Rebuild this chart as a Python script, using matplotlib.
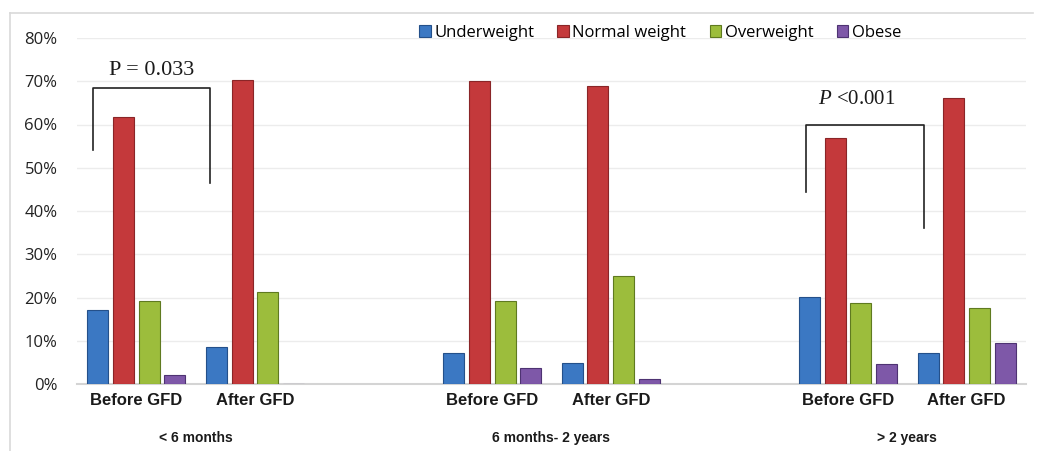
import matplotlib
matplotlib.use("Agg")
import matplotlib.pyplot as plt
from matplotlib.lines import Line2D
import numpy as np

plt.rcParams["mathtext.fontset"] = "custom"
plt.rcParams["mathtext.it"] = "Liberation Serif:italic"
plt.rcParams["mathtext.rm"] = "Liberation Serif"

series = ["Underweight", "Normal weight", "Overweight", "Obese"]
colors = ["#3b78c3", "#c4393b", "#9cbd3c", "#7e58a8"]
edges = ["#24508a", "#8a2527", "#5f7a20", "#4e3372"]

categories = ["Before GFD", "After GFD", "", "Before GFD", "After GFD", "", "Before GFD", "After GFD"]
groups = ["< 6 months", "6 months- 2 years", "> 2 years"]

underweight = [17.1, 8.6, None, 7.2, 4.9, None, 20.1, 7.2]
normal      = [61.7, 70.4, None, 70.0, 68.9, None, 56.9, 66.1]
overweight  = [19.2, 21.3, None, 19.2, 25.0, None, 18.7, 17.6]
obese       = [2.1, 0.0, None, 3.7, 1.2, None, 4.6, 9.5]
values = [underweight, normal, overweight, obese]
yticks = [0, 10, 20, 30, 40, 50, 60, 70, 80]

W, H = 1037, 451
fig = plt.figure(figsize=(W / 100, H / 100), dpi=100)
ax = fig.add_axes([77 / W, 1 - 384 / H, (1026 - 77) / W, (384 - 38) / H])

x = np.arange(len(categories))
step = 0.217
bw = 0.178
for i, (name, vals) in enumerate(zip(series, values)):
    xs = [xi + (i - 1.5) * step for xi, v in zip(x, vals) if v is not None]
    vs = [v / 100 for v in vals if v is not None]
    ax.bar(xs, vs, width=bw, color=colors[i], edgecolor=edges[i], linewidth=0.8,
           label=name, zorder=3)

ax.set_xlim(-0.5, len(categories) - 0.5)
ax.set_ylim(0, 0.8)
ax.set_yticks([t / 100 for t in yticks])
ax.set_yticklabels([f"{t}%" for t in yticks], fontsize=12, color="#222222",
                   family=["Open Sans", "DejaVu Sans"])
ax.tick_params(axis="y", length=0, pad=14)
ax.set_xticks([])
ax.grid(axis="y", color="#ececec", linewidth=1, zorder=0)
for s in ["left", "right", "top"]:
    ax.spines[s].set_visible(False)
ax.spines["bottom"].set_color("#d4d4d4")
ax.spines["bottom"].set_linewidth(1.5)

for xi, c in zip(x, categories):
    if c:
        ax.text(xi, -0.02, c, ha="center", va="top", fontsize=12, fontweight="bold",
                color="#1a1a1a", family=["Liberation Sans", "DejaVu Sans"])
for gi, g in enumerate(groups):
    gx = 3 * gi + 0.5
    ax.text(gx, -0.108, g, ha="center", va="top", fontsize=10, fontweight="bold",
            color="#1a1a1a", family=["Liberation Sans", "DejaVu Sans"])

# significance brackets
ax.plot([-0.365, -0.365, 0.621, 0.621], [0.541, 0.684, 0.684, 0.465],
        color="#222222", linewidth=1.2, clip_on=False, zorder=4)
ax.text(0.13, 0.703, "P = 0.033", ha="center", va="bottom", fontsize=16,
        family=["Liberation Serif", "DejaVu Serif"], color="#1a1a1a")
ax.plot([5.647, 5.647, 6.642, 6.642], [0.444, 0.599, 0.599, 0.361],
        color="#222222", linewidth=1.2, clip_on=False, zorder=4)
ax.text(6.07, 0.636, r"$\mathit{P}$ <0.001", ha="center", va="bottom", fontsize=15,
        family=["Liberation Serif", "DejaVu Serif"], color="#1a1a1a")

leg = fig.legend(loc="center", bbox_to_anchor=(660 / W, 1 - 33 / H), ncol=4,
                 frameon=False, handlelength=0.7, handleheight=0.7,
                 handletextpad=0.2, columnspacing=1.4,
                 prop={"family": ["Open Sans", "DejaVu Sans"], "size": 12})

# outer chart frame
fig.add_artist(Line2D([10 / W, 10 / W], [0, 1 - 13 / H], transform=fig.transFigure,
                      color="#d9d9d9", linewidth=1.2))
fig.add_artist(Line2D([10 / W, 1033 / W], [1 - 13 / H, 1 - 13 / H],
                      transform=fig.transFigure, color="#d9d9d9", linewidth=1.2))

fig.savefig("out.png", dpi=100)
